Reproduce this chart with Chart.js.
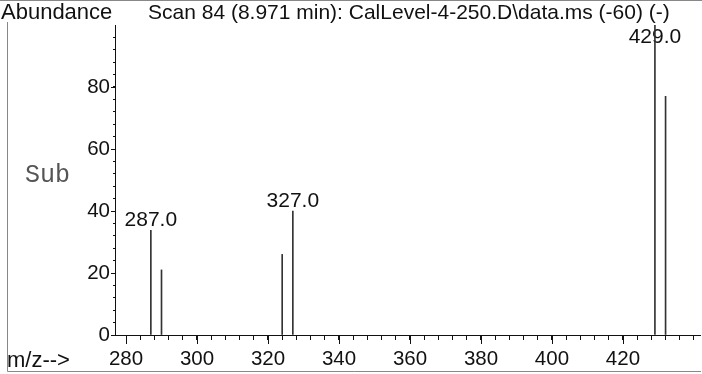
<!DOCTYPE html>
<html>
<head>
<meta charset="utf-8">
<script src="https://cdn.jsdelivr.net/npm/chart.js@4.4.1/dist/chart.umd.min.js"></script>
<style>
  body { margin: 0; background: #fff; }
  #wrap { position: relative; width: 702px; height: 374px; }
  .txt { position: absolute; font-family: "Liberation Sans", Arial, sans-serif; font-size: 21px; line-height: 21px; color: #111; white-space: nowrap; }
  #sub { font-family: "Liberation Mono", "Courier New", monospace; font-size: 25px; line-height: 25px; color: #555; }
</style>
</head>
<body>
<div id="wrap">
  <canvas id="msChart" width="702" height="374"></canvas>
  <div class="txt" style="left:1px; top:1px; font-size:22px;">Abundance</div>
  <div class="txt" style="left:148px; top:1px;">Scan 84 (8.971 min): CalLevel-4-250.D\data.ms (-60) (-)</div>
  <div class="txt" id="sub" style="left:25px; top:163px;">Sub</div>
  <div class="txt" style="left:7px; top:349px; font-size:22px;">m/z--&gt;</div>
</div>
<script>
// spectrum peaks
const mzValues = [287, 290, 324, 327, 429, 432];
const abundance = [33.8, 21, 26, 40, 100, 77];
const labeledMz = [287, 327, 429];

// axes
const xTickLabels = [280, 300, 320, 340, 360, 380, 400, 420];
const yTickLabels = [0, 20, 40, 60, 80];

const tickFont = { family: '"Liberation Sans", Arial, sans-serif', size: 20.5 };

function stepTicks(from, to, step) {
  const out = [];
  for (let v = from; v <= to; v += step) out.push({ value: v });
  return out;
}

// frame, longer major ticks and peak labels
const decorations = {
  id: 'decorations',
  beforeDraw(chart) {
    const c = chart.ctx;
    c.save();
    c.strokeStyle = '#888';
    c.lineWidth = 1;
    c.beginPath();
    c.moveTo(0, 0.5);
    c.lineTo(702, 0.5);
    c.moveTo(7.5, 22);
    c.lineTo(7.5, 371.5);
    c.lineTo(701, 371.5);
    c.stroke();
    c.restore();
  },
  beforeDatasetsDraw(chart) {
    const c = chart.ctx;
    const x = chart.scales.x, y = chart.scales.y;
    c.save();
    c.fillStyle = '#111';
    c.font = '21px "Liberation Sans", Arial, sans-serif';
    c.textAlign = 'center';
    c.textBaseline = 'alphabetic';
    labeledMz.forEach(m => {
      const i = mzValues.indexOf(m);
      const px = x.getPixelForValue(m);
      const py = Math.max(y.getPixelForValue(abundance[i]) - 4, chart.chartArea.top + 18);
      c.fillText(m.toFixed(1), px, py);
    });
    c.restore();
  },
  afterDraw(chart) {
    const c = chart.ctx;
    const x = chart.scales.x, y = chart.scales.y;
    const area = chart.chartArea;
    c.save();
    c.strokeStyle = '#111';
    c.lineWidth = 1;
    c.beginPath();
    xTickLabels.forEach(v => {
      const px = Math.round(x.getPixelForValue(v)) + 0.5;
      c.moveTo(px, area.bottom);
      c.lineTo(px, area.bottom + 9);
    });
    yTickLabels.forEach(v => {
      const py = Math.round(y.getPixelForValue(v)) + 0.5;
      c.moveTo(area.left - 4, py);
      c.lineTo(area.left, py);
    });
    c.stroke();
    c.restore();
  }
};

const ctx = document.getElementById('msChart');
new Chart(ctx, {
  type: 'bar',
  data: {
    datasets: [{
      data: mzValues.map((m, i) => ({ x: m, y: abundance[i] })),
      backgroundColor: '#333',
      borderWidth: 0,
      barThickness: 1
    }]
  },
  options: {
    responsive: false,
    animation: false,
    layout: { padding: { top: 25, right: 2, left: 0, bottom: 0 } },
    plugins: { legend: { display: false }, tooltip: { enabled: false } },
    scales: {
      x: {
        type: 'linear',
        min: 276.9,
        max: 441.7,
        offset: false,
        afterBuildTicks: s => { s.ticks = stepTicks(280, 440, 4); },
        afterFit: s => { s.height = 39; },
        grid: { drawOnChartArea: false, tickLength: 5, color: '#111', offset: false },
        border: { color: '#111' },
        ticks: {
          autoSkip: false,
          maxRotation: 0,
          padding: 7,
          color: '#111',
          font: tickFont,
          callback: v => xTickLabels.includes(v) ? v : ''
        }
      },
      y: {
        min: 0,
        max: 100,
        afterBuildTicks: s => { s.ticks = stepTicks(0, 96, 4); },
        afterFit: s => { s.width = 115; },
        grid: { drawOnChartArea: false, tickLength: 2, color: '#111' },
        border: { color: '#111' },
        ticks: {
          autoSkip: false,
          padding: 3,
          color: '#111',
          font: tickFont,
          callback: v => yTickLabels.includes(v) ? v : ''
        }
      }
    }
  },
  plugins: [decorations]
});
</script>
</body>
</html>
